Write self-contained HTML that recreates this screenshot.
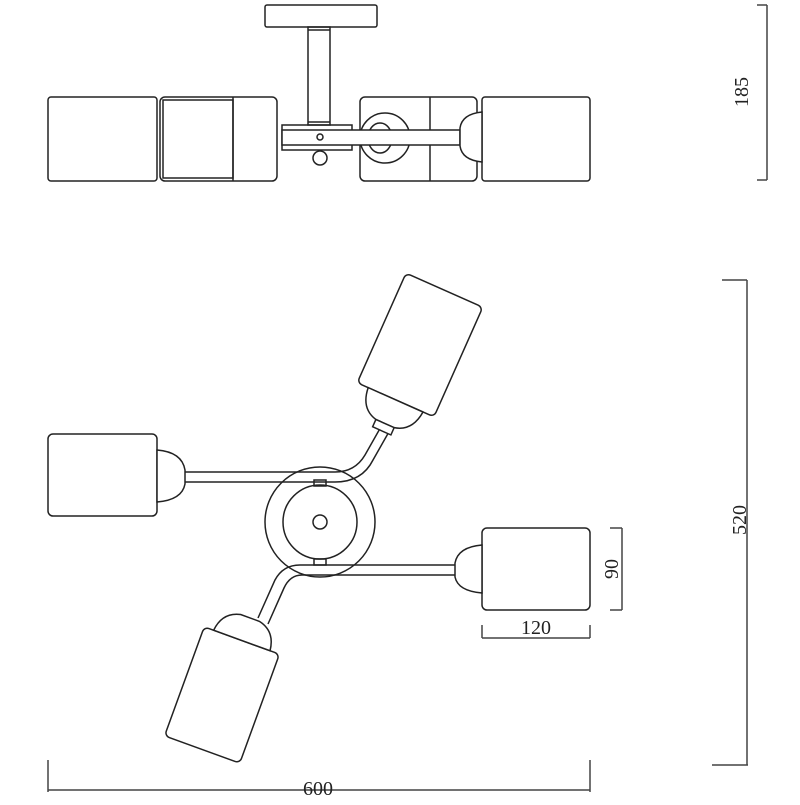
<!DOCTYPE html>
<html><head><style>body{margin:0;background:#fff}</style></head><body>
<svg width="800" height="800" viewBox="0 0 800 800" xmlns="http://www.w3.org/2000/svg" fill="none" stroke="#222" stroke-width="1.5" font-family="Liberation Serif, serif">
<!-- top elevation -->
<rect x="265" y="5" width="112" height="22" rx="2"/>
<rect x="308" y="27" width="22" height="98"/>
<line x1="308" y1="30" x2="330" y2="30"/><line x1="308" y1="122" x2="330" y2="122"/>
<rect x="48" y="97" width="109" height="84" rx="3"/>
<rect x="160" y="97" width="117" height="84" rx="5"/>
<rect x="163" y="100" width="70" height="78"/>
<line x1="233" y1="97" x2="233" y2="181"/>
<rect x="360" y="97" width="117" height="84" rx="5"/>
<line x1="430" y1="97" x2="430" y2="181"/>
<rect x="482" y="97" width="108" height="84" rx="3"/>
<circle cx="385" cy="138" r="25"/>
<ellipse cx="380" cy="138" rx="12" ry="15"/>
<circle cx="380" cy="138" r="4"/>
<rect x="282" y="125" width="70" height="25"/>
<rect x="282" y="130" width="178" height="15" fill="#fff"/>
<circle cx="320" cy="158" r="7"/>
<circle cx="320" cy="137" r="3"/>
<path d="M460 128 Q462 114 482 112 L482 162 Q462 160 460 146 Z" fill="#fff"/>
<!-- plan view: center -->
<circle cx="320" cy="522" r="55"/>
<circle cx="320" cy="522" r="37"/>
<circle cx="320" cy="522" r="7"/>
<rect x="314" y="480" width="12" height="6"/><rect x="314" y="559" width="12" height="6"/>
<!-- left arm -->
<path d="M185 472 L335 472 Q355 472 365 455 L382 425" fill="none"/>
<path d="M185 482 L335 482 Q362 482 373 460 L390 430" fill="none"/>
<rect x="48" y="434" width="109" height="82" rx="5" fill="#fff"/>
<path d="M157 450 Q182 452 185 470 L185 484 Q182 500 157 502 Z" fill="#fff"/>
<!-- top shade -->
<g transform="translate(420,345) rotate(24)">
<rect x="-42" y="-60" width="84" height="120" rx="5" fill="#fff"/>
<path d="M-30 60 Q-28 82 -10 86 L10 86 Q28 82 30 60 Z" fill="#fff"/>
<rect x="-10" y="86" width="20" height="8" fill="#fff"/>
</g>
<!-- right arm -->
<path d="M455 565 L300 565 Q283 565 275 580 L258 618" fill="none"/>
<path d="M455 575 L302 575 Q290 575 284 588 L268 624" fill="none"/>
<rect x="482" y="528" width="108" height="82" rx="5" fill="#fff"/>
<path d="M482 545 Q458 547 455 563 L455 577 Q458 591 482 593 Z" fill="#fff"/>
<!-- bottom shade -->
<g transform="translate(222,695) rotate(20)">
<rect x="-40" y="-58" width="80" height="116" rx="5" fill="#fff"/>
<path d="M-30 -58 Q-28 -78 -10 -82 L10 -82 Q28 -78 30 -58 Z" fill="#fff"/>
</g>
<!-- dimensions -->
<g stroke="#444">
<line x1="767" y1="5" x2="767" y2="180"/><line x1="757" y1="5" x2="767" y2="5"/><line x1="757" y1="180" x2="767" y2="180"/>
<line x1="747" y1="280" x2="747" y2="765"/><line x1="722" y1="280" x2="747" y2="280"/><line x1="712" y1="765" x2="748" y2="765"/>
<line x1="622" y1="528" x2="622" y2="610"/><line x1="610" y1="528" x2="622" y2="528"/><line x1="610" y1="610" x2="622" y2="610"/>
<line x1="482" y1="638" x2="590" y2="638"/><line x1="482" y1="625" x2="482" y2="638"/><line x1="590" y1="625" x2="590" y2="638"/>
<line x1="48" y1="790" x2="590" y2="790"/><line x1="48" y1="760" x2="48" y2="792"/><line x1="590" y1="760" x2="590" y2="792"/>
</g>
<g fill="#222" stroke="none" font-size="20">
<text x="318" y="795" text-anchor="middle">600</text>
<text x="536" y="634" text-anchor="middle">120</text>
<text transform="translate(618,569) rotate(-90)" text-anchor="middle">90</text>
<text transform="translate(746,520) rotate(-90)" text-anchor="middle">520</text>
<text transform="translate(748,92) rotate(-90)" text-anchor="middle">185</text>
</g>
</svg>
</body></html>
